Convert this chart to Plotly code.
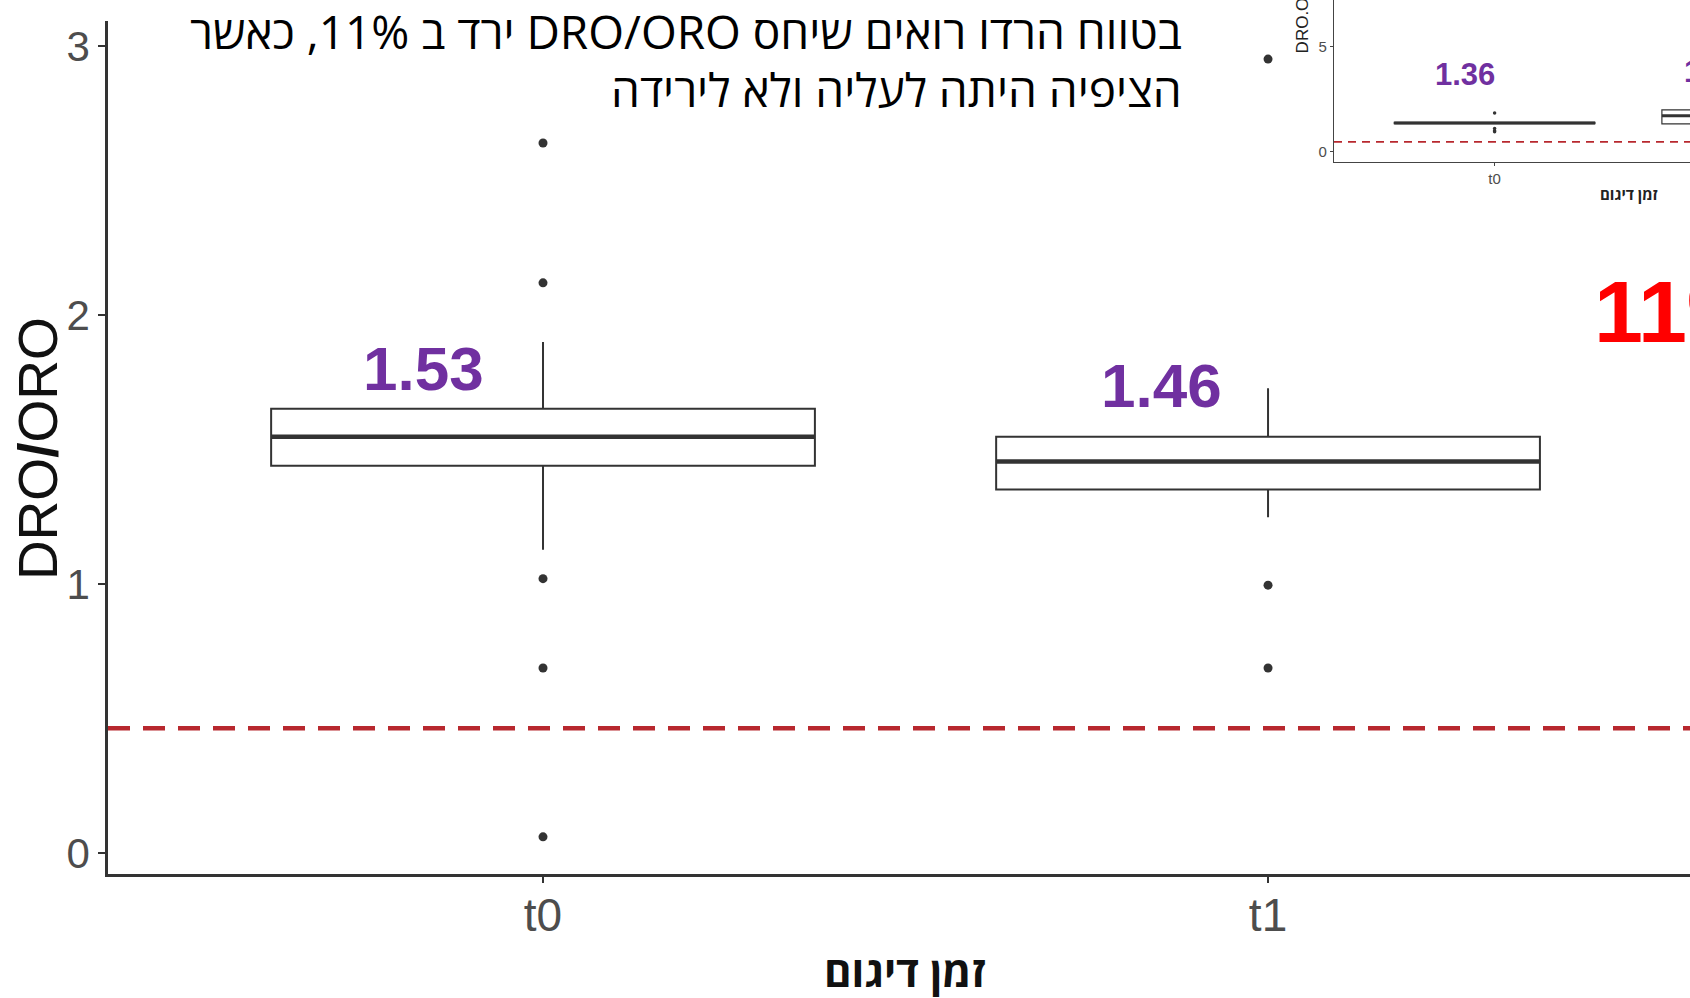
import plotly.graph_objects as go

# ---------------- data ----------------
categories = ["t0", "t1"]
q1 = [1.44, 1.352]
median = [1.548, 1.456]
q3 = [1.652, 1.548]
lower_fence = [1.128, 1.248]
upper_fence = [1.90, 1.728]
outlier_group = [0, 0, 0, 0, 0, 1, 1, 1]
outlier_values = [2.64, 2.12, 1.02, 0.688, 0.06, 2.952, 0.996, 0.688]
mean_labels = ["1.53", "1.46"]
threshold = 0.464
y_ticks = [0, 1, 2, 3]

inset_q1 = [1.33, 1.32]
inset_median = [1.36, 1.71]
inset_q3 = [1.40, 1.99]
inset_lower = [1.33, 1.0]
inset_upper = [1.40, 2.3]
inset_outlier_group = [0, 0, 0, 0]
inset_outlier_values = [1.84, 1.1, 1.0, 0.95]
inset_labels = ["1.36", "1.71"]
inset_y_ticks = [0, 5]

title_lines = ["בטווח הרדו רואים שיחס DRO/ORO ירד ב 11%, כאשר",
               "הציפיה היתה לעליה ולא לירידה"]
x_title = "זמן דיגום"
y_title = "DRO<b>/</b>ORO"
inset_y_title = "DRO.ORO"
big_text = "11%"

# ---------------- layout constants ----------------
W, H = 1690, 998
BOX_W = 0.75
idx = list(range(len(categories)))

def px_x(p):
    return p / W

def px_y(p):
    return 1 - p / H

fig = go.Figure()

# main boxes
fig.add_trace(go.Box(
    x=idx, q1=q1, median=median, q3=q3,
    lowerfence=lower_fence, upperfence=upper_fence,
    width=BOX_W, boxpoints=False, whiskerwidth=0,
    fillcolor="white", line=dict(color="#333333", width=2),
    xaxis="x", yaxis="y", showlegend=False, hoverinfo="skip"))
fig.add_trace(go.Scatter(
    x=outlier_group, y=outlier_values, mode="markers",
    marker=dict(color="#333333", size=9),
    xaxis="x", yaxis="y", showlegend=False, hoverinfo="skip"))

# inset boxes
fig.add_trace(go.Box(
    x=idx, q1=inset_q1, median=inset_median, q3=inset_q3,
    lowerfence=inset_lower, upperfence=inset_upper,
    width=BOX_W, boxpoints=False, whiskerwidth=0,
    fillcolor="white", line=dict(color="#333333", width=1.2),
    xaxis="x2", yaxis="y2", showlegend=False, hoverinfo="skip"))
fig.add_trace(go.Scatter(
    x=inset_outlier_group, y=inset_outlier_values, mode="markers",
    marker=dict(color="#333333", size=3.5),
    xaxis="x2", yaxis="y2", showlegend=False, hoverinfo="skip"))

shapes = []
# thicker median lines (ggplot style)
for i in idx:
    shapes.append(dict(type="line", xref="x", yref="y",
                       x0=i - BOX_W / 2, x1=i + BOX_W / 2,
                       y0=median[i], y1=median[i],
                       line=dict(color="#333333", width=4.5)))
    shapes.append(dict(type="line", xref="x2", yref="y2",
                       x0=i - BOX_W / 2, x1=i + BOX_W / 2,
                       y0=inset_median[i], y1=inset_median[i],
                       line=dict(color="#333333", width=3)))
# dashed threshold lines
shapes.append(dict(type="line", xref="x domain", yref="y", x0=0, x1=1,
                   y0=threshold, y1=threshold, layer="above",
                   line=dict(color="#B8282E", width=4.5, dash="22px,13px")))
shapes.append(dict(type="line", xref="x2 domain", yref="y2", x0=0, x1=1,
                   y0=threshold, y1=threshold, layer="above",
                   line=dict(color="#B8282E", width=1.8, dash="8px,6px")))

annotations = []
# mean labels main
label_dx = [-0.165, -0.147]
label_y = [1.80, 1.74]
for i in idx:
    annotations.append(dict(xref="x", yref="y", x=i + label_dx[i], y=label_y[i],
                            xanchor="center", yanchor="middle",
                            text="<b>%s</b>" % mean_labels[i], showarrow=False,
                            font=dict(family="Liberation Sans, Arial", size=62, color="#7030A0")))
# inset labels (paper coords)
annotations.append(dict(xref="paper", yref="paper", x=px_x(1465), y=px_y(75),
                        xanchor="center", yanchor="middle",
                        text="<b>%s</b>" % inset_labels[0], showarrow=False,
                        font=dict(family="Liberation Sans, Arial", size=31, color="#7030A0")))
annotations.append(dict(xref="paper", yref="paper", x=px_x(1682), y=px_y(72),
                        xanchor="left", yanchor="middle",
                        text="<b>%s</b>" % inset_labels[1], showarrow=False,
                        font=dict(family="Liberation Sans, Arial", size=31, color="#7030A0")))
# big red text
annotations.append(dict(xref="paper", yref="paper", x=px_x(1592), y=px_y(312),
                        xanchor="left", yanchor="middle",
                        text="<b>%s</b>" % big_text, showarrow=False,
                        font=dict(family="Liberation Sans, Arial", size=88, color="#FF0000")))
# hebrew title lines
for text, yc in zip(title_lines, [31, 89]):
    annotations.append(dict(xref="paper", yref="paper", x=px_x(1184), y=px_y(yc),
                            xanchor="right", yanchor="middle", align="right",
                            text="\u202B" + text + "\u202C", showarrow=False,
                            font=dict(family="Open Sans, DejaVu Sans", size=46, color="#000000")))
# axis titles
annotations.append(dict(xref="paper", yref="paper", x=px_x(38), y=px_y(450),
                        xanchor="center", yanchor="middle",
                        textangle=-90, text=y_title, showarrow=False,
                        font=dict(family="Liberation Sans, Arial", size=55, color="#111111")))
annotations.append(dict(xref="paper", yref="paper", x=px_x(905), y=px_y(972),
                        xanchor="center", yanchor="middle",
                        text="<b>\u202B" + x_title + "\u202C</b>", showarrow=False,
                        font=dict(family="Open Sans, DejaVu Sans", size=42, color="#111111")))
annotations.append(dict(xref="paper", yref="paper", x=px_x(1302), y=px_y(56),
                        xanchor="center", yanchor="bottom", textangle=-90,
                        text=inset_y_title, showarrow=False,
                        font=dict(family="Liberation Sans, Arial", size=17, color="#222222")))
annotations.append(dict(xref="paper", yref="paper", x=px_x(1629), y=px_y(194),
                        xanchor="center", yanchor="middle",
                        text="<b>\u202B" + x_title + "\u202C</b>", showarrow=False,
                        font=dict(family="Open Sans, DejaVu Sans", size=15, color="#222222")))

fig.update_layout(
    width=W, height=H, autosize=False,
    margin=dict(l=0, r=0, t=0, b=0),
    paper_bgcolor="white", plot_bgcolor="white",
    shapes=shapes, annotations=annotations,
    xaxis=dict(domain=[px_x(108), 1], range=[-0.6, 1.582],
               tickvals=idx, ticktext=categories,
               showline=True, linecolor="#333333", linewidth=2.5,
               ticks="outside", ticklen=6, tickwidth=2, tickcolor="#333333",
               ticklabelstandoff=-7,
               showgrid=False, zeroline=False,
               tickfont=dict(family="Liberation Sans, Arial", size=46, color="#4D4D4D")),
    yaxis=dict(domain=[px_y(876), px_y(21.5)], range=[-0.079, 3.092],
               tickvals=y_ticks,
               showline=True, linecolor="#333333", linewidth=2.5,
               ticks="outside", ticklen=7, tickwidth=2, tickcolor="#333333",
               showgrid=False, zeroline=False,
               tickfont=dict(family="Liberation Sans, Arial", size=42, color="#4D4D4D")),
    xaxis2=dict(domain=[px_x(1334), 1], range=[-0.6, 0.73], anchor="y2",
                tickvals=idx, ticktext=categories,
                showline=True, linecolor="#444444", linewidth=1.2,
                ticks="outside", ticklen=3, tickwidth=1, tickcolor="#444444",
                showgrid=False, zeroline=False,
                tickfont=dict(family="Liberation Sans, Arial", size=15, color="#4D4D4D")),
    yaxis2=dict(domain=[px_y(162), 1], range=[-0.476, 7.22], anchor="x2",
                tickvals=inset_y_ticks,
                showline=True, linecolor="#444444", linewidth=1.2,
                ticks="outside", ticklen=3, tickwidth=1, tickcolor="#444444",
                showgrid=False, zeroline=False,
                tickfont=dict(family="Liberation Sans, Arial", size=15, color="#4D4D4D")),
)

fig.write_html("out.html")
